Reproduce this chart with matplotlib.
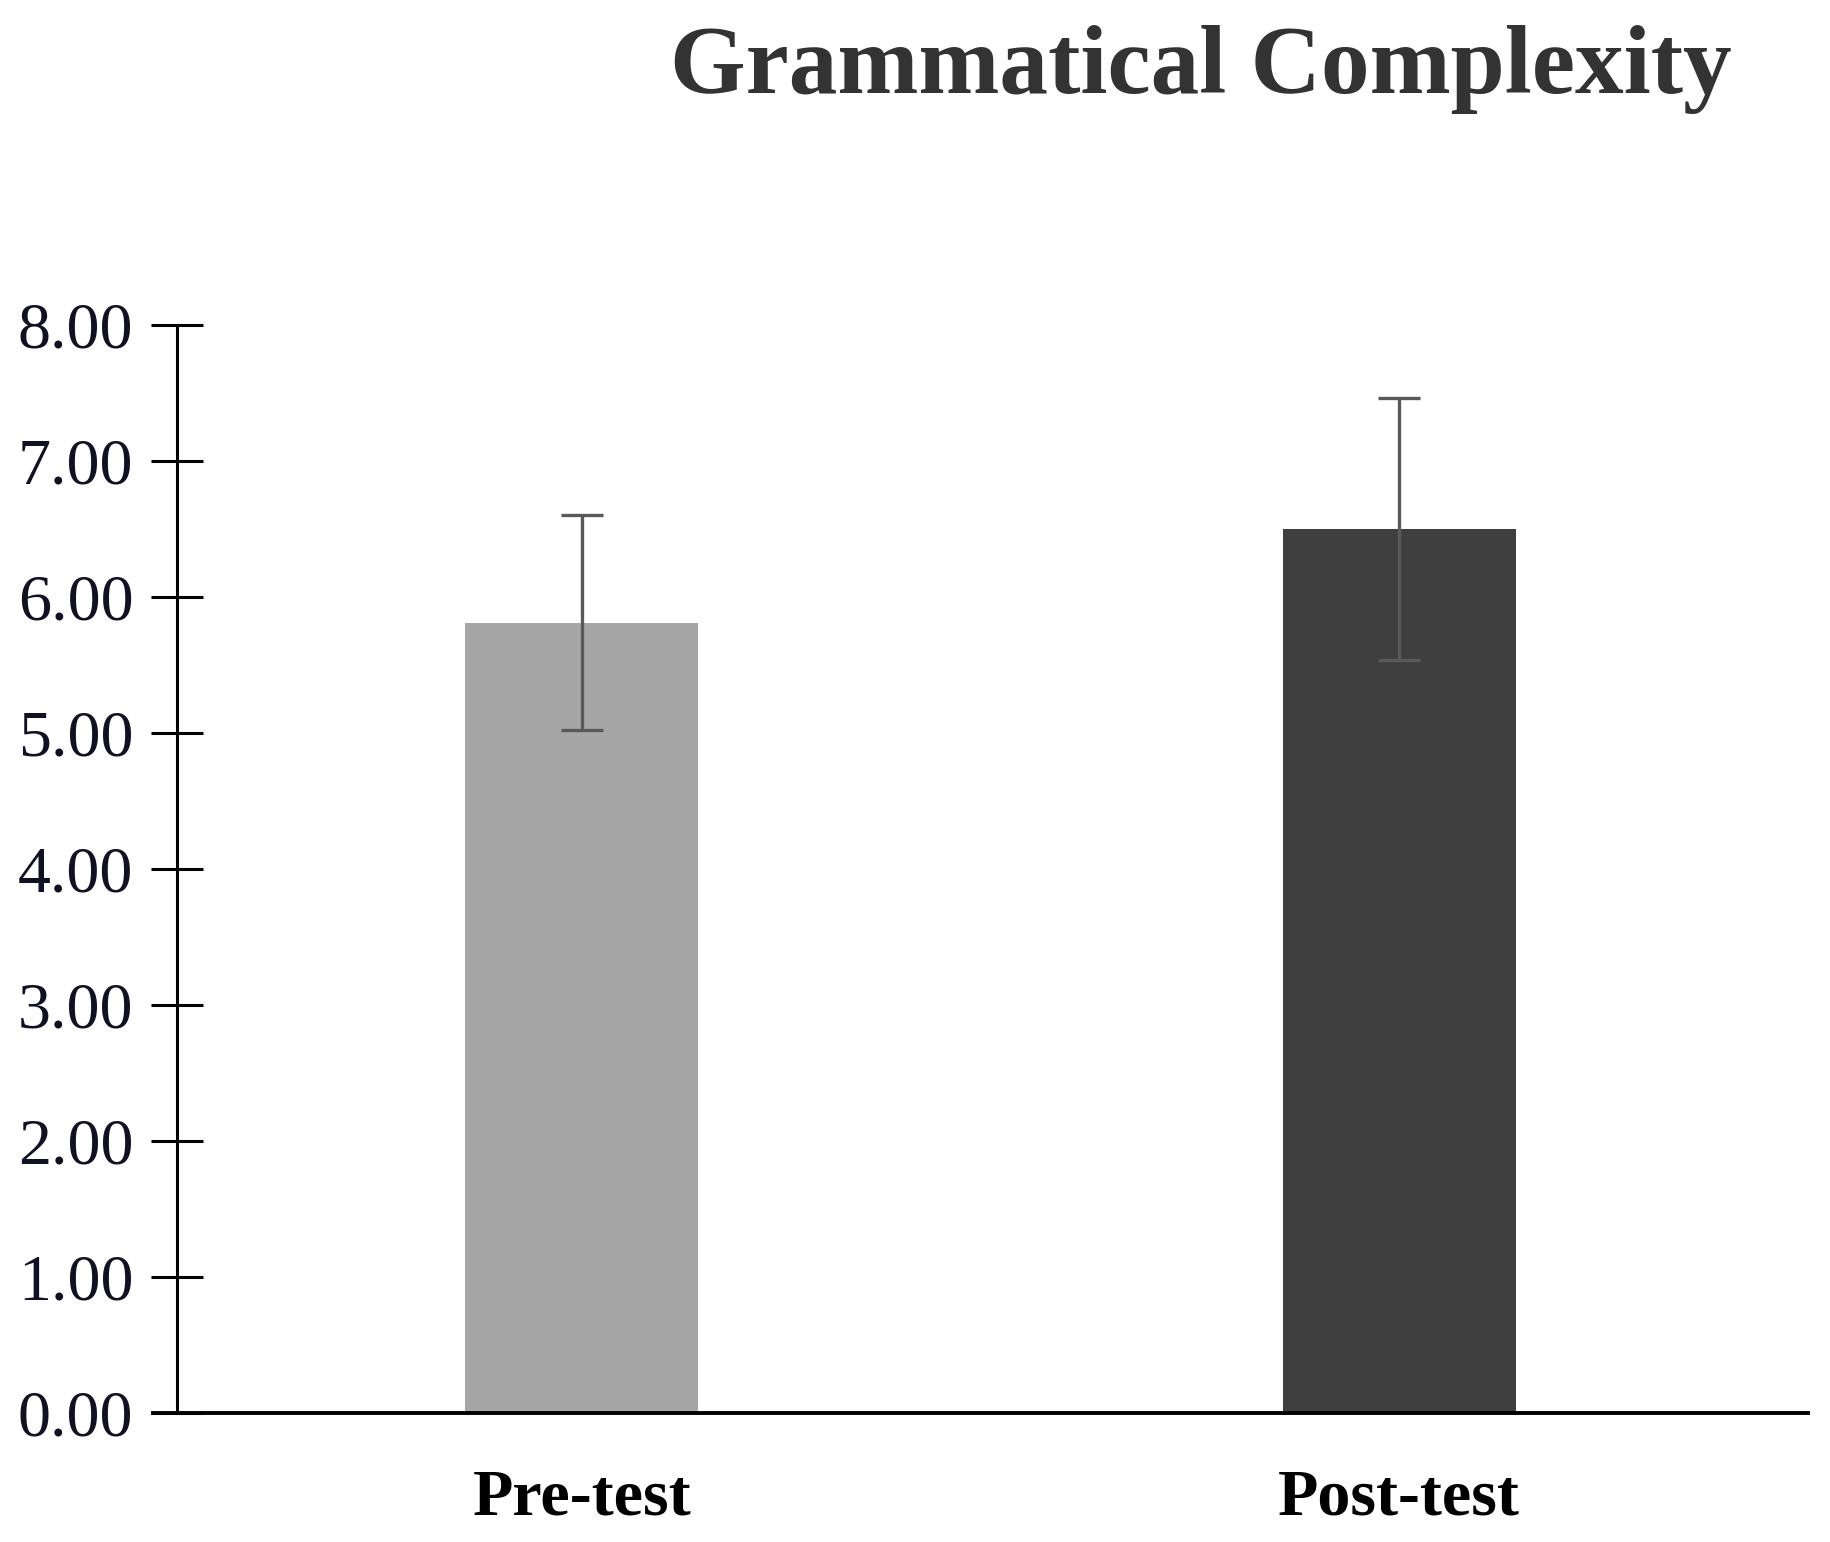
import matplotlib
matplotlib.use("Agg")
import matplotlib.pyplot as plt

# ---- data ----
groups = ["Pre-test", "Post-test"]
means = [5.81, 6.50]
errors = [0.79, 0.96]
bar_colors = ["#a6a6a6", "#3f3f3f"]
y_ticks = [0, 1, 2, 3, 4, 5, 6, 7, 8]

plt.rcParams["font.family"] = ["Liberation Serif", "DejaVu Serif"]

fig = plt.figure(figsize=(18.31, 15.42), dpi=100)
ax = fig.add_axes([0.0967, 0.0837, 0.8907, 0.7055])

x = list(range(len(groups)))
ax.bar(x, means, width=0.285, color=bar_colors, zorder=2)
ax.errorbar(x, means, yerr=errors, fmt="none", ecolor="#595959",
            elinewidth=2.4, capsize=15, capthick=2.4, zorder=3)

ax.set_xlim(-0.495, 1.5)
ax.set_ylim(0, 8)
ax.set_yticks(y_ticks)
ax.set_yticklabels([f"{v:.2f}" for v in y_ticks])
ax.set_xticks(x)
ax.set_xticklabels(groups, fontweight="bold")

for side in ["top", "right"]:
    ax.spines[side].set_visible(False)
ax.spines["left"].set_linewidth(2.2)
ax.spines["bottom"].set_linewidth(2.8)
ax.spines["bottom"].set_bounds(-0.525, 1.5)

ax.tick_params(axis="y", direction="inout", length=37, width=2.2,
               labelsize=47.5, pad=13, labelcolor="#111122")
ax.tick_params(axis="x", length=0, labelsize=47.5, pad=40, labelcolor="#000000")

fig.text(0.656, 0.94, "Grammatical Complexity", ha="center", va="baseline",
         fontsize=70, fontweight="bold", color="#333333")

fig.savefig("out.png", dpi=100)
